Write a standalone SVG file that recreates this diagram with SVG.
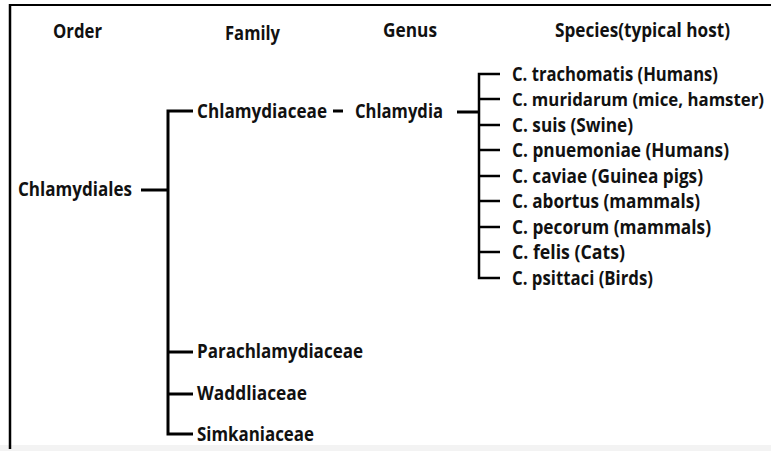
<svg xmlns="http://www.w3.org/2000/svg" width="771" height="451" viewBox="0 0 771 451">
<style>
text{font-family:"Open Sans","Liberation Sans",sans-serif;font-weight:bold;font-size:19px;fill:#111}
.ln{stroke:#000;stroke-width:3;fill:none}
.sp{stroke:#000;stroke-width:2.5;fill:none}
</style>
<rect x="0" y="0" width="771" height="451" fill="#fff"/>
<rect x="0" y="445" width="771" height="6" fill="#f3f3f3"/>
<g id="frame">
<line x1="9" y1="5" x2="771" y2="5" stroke="#000" stroke-width="2"/>
<line x1="10" y1="4" x2="10" y2="449" stroke="#000" stroke-width="2.5"/>
</g>
<g id="headers">
<text x="53" y="38" textLength="49" lengthAdjust="spacingAndGlyphs">Order</text>
<text x="225" y="40" textLength="55" lengthAdjust="spacingAndGlyphs">Family</text>
<text x="383" y="37" textLength="54" lengthAdjust="spacingAndGlyphs">Genus</text>
<text x="555" y="37" textLength="175" lengthAdjust="spacingAndGlyphs">Species(typical host)</text>
</g>
<g id="connectors">
<line class="ln" x1="141" y1="190" x2="168" y2="190"/>
<path class="ln" d="M193,111 H168 V434 H193"/>
<line class="ln" x1="168" y1="352" x2="193" y2="352"/>
<line class="ln" x1="168" y1="394" x2="193" y2="394"/>
<line class="ln" x1="333" y1="111" x2="343" y2="111"/>
<line class="ln" x1="457" y1="112" x2="479" y2="112"/>
<path class="sp" d="M500,74 H479 V278 H500"/>
<line class="sp" x1="479" y1="99" x2="500" y2="99"/>
<line class="sp" x1="479" y1="125" x2="500" y2="125"/>
<line class="sp" x1="479" y1="150" x2="500" y2="150"/>
<line class="sp" x1="479" y1="176" x2="500" y2="176"/>
<line class="sp" x1="479" y1="201" x2="500" y2="201"/>
<line class="sp" x1="479" y1="227" x2="500" y2="227"/>
<line class="sp" x1="479" y1="252" x2="500" y2="252"/>
</g>
<g id="order"><text x="18" y="196" textLength="114" lengthAdjust="spacingAndGlyphs">Chlamydiales</text></g>
<g id="chlamydiaceae"><text x="197" y="118" textLength="130" lengthAdjust="spacingAndGlyphs">Chlamydiaceae</text></g>
<g id="parachlamydiaceae"><text x="197" y="358" textLength="166" lengthAdjust="spacingAndGlyphs">Parachlamydiaceae</text></g>
<g id="waddliaceae"><text x="197" y="400" textLength="110" lengthAdjust="spacingAndGlyphs">Waddliaceae</text></g>
<g id="simkaniaceae"><text x="197" y="441" textLength="117" lengthAdjust="spacingAndGlyphs">Simkaniaceae</text></g>
<g id="chlamydia"><text x="355" y="118" textLength="88" lengthAdjust="spacingAndGlyphs">Chlamydia</text></g>
<g id="species">
<text x="512" y="81" textLength="206" lengthAdjust="spacingAndGlyphs">C. trachomatis (Humans)</text>
<text x="512" y="106" style="font-size:17px" textLength="252" lengthAdjust="spacingAndGlyphs">C. muridarum (mice, hamster)</text>
<text x="512" y="132" textLength="121" lengthAdjust="spacingAndGlyphs">C. suis (Swine)</text>
<text x="512" y="157" textLength="217" lengthAdjust="spacingAndGlyphs">C. pnuemoniae (Humans)</text>
<text x="512" y="183" textLength="191" lengthAdjust="spacingAndGlyphs">C. caviae (Guinea pigs)</text>
<text x="512" y="208" textLength="188" lengthAdjust="spacingAndGlyphs">C. abortus (mammals)</text>
<text x="512" y="234" textLength="199" lengthAdjust="spacingAndGlyphs">C. pecorum (mammals)</text>
<text x="512" y="259" textLength="113" lengthAdjust="spacingAndGlyphs">C. felis (Cats)</text>
<text x="512" y="285" textLength="141" lengthAdjust="spacingAndGlyphs">C. psittaci (Birds)</text>
</g>
</svg>
